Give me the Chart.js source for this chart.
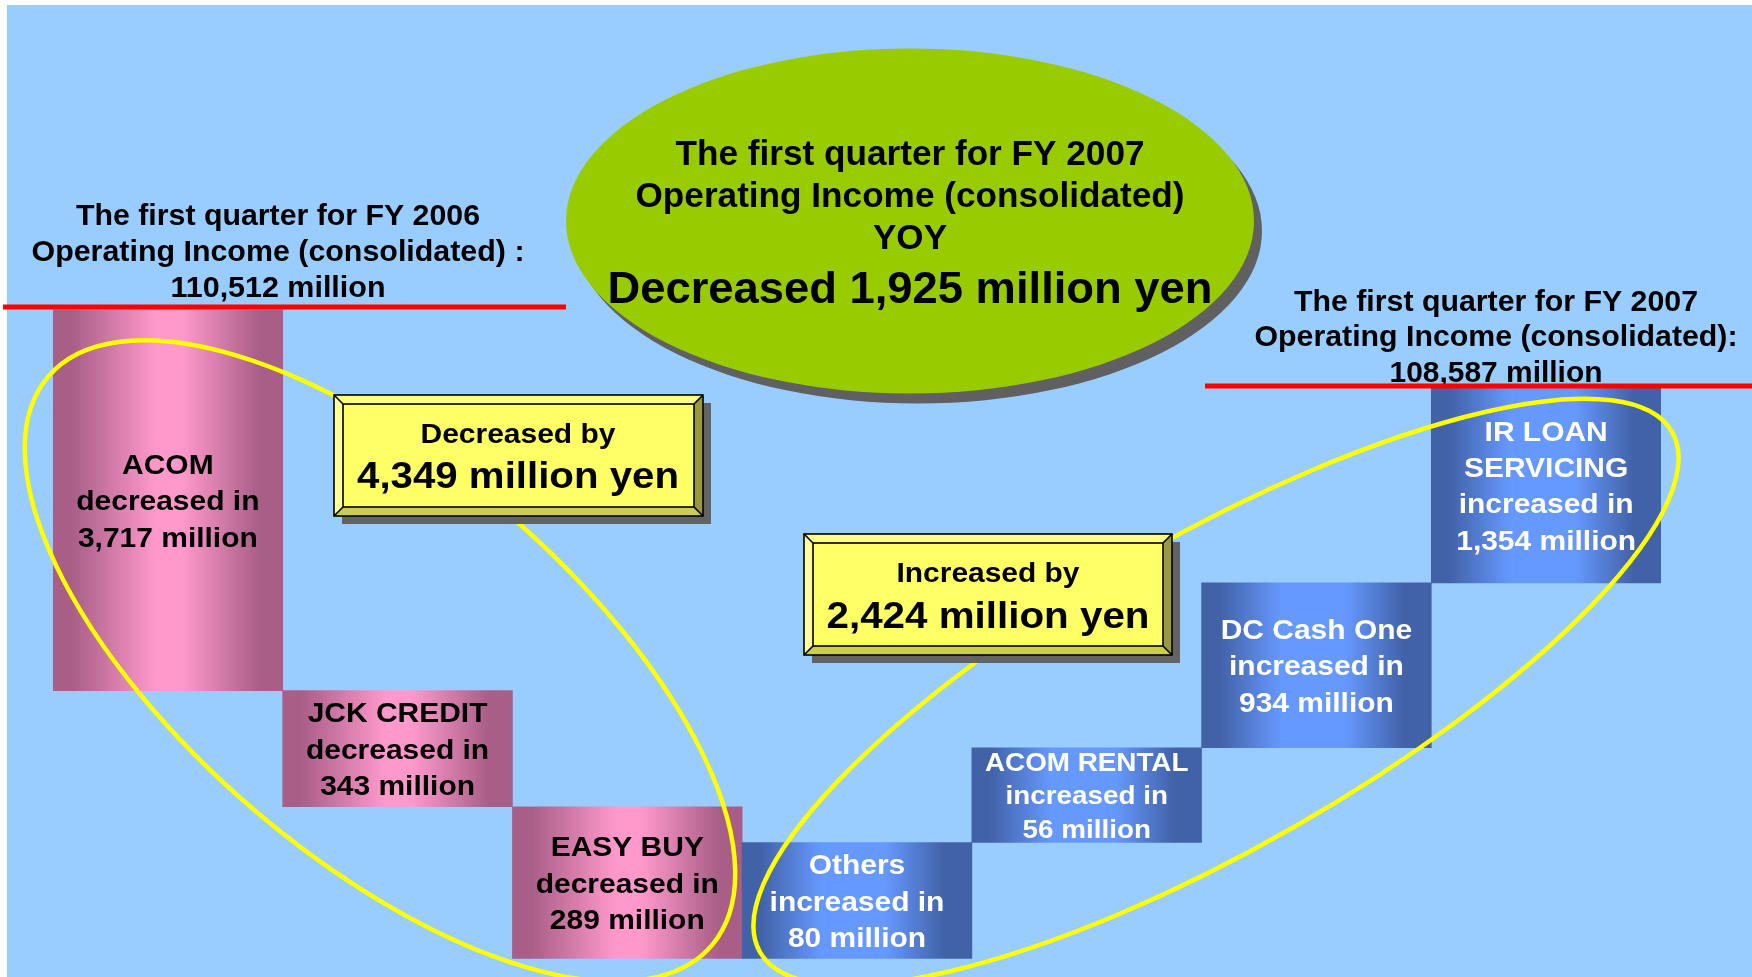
<!DOCTYPE html>
<html><head><meta charset="utf-8">
<script src="https://cdn.jsdelivr.net/npm/chart.js@4/dist/chart.umd.min.js"></script>
<style>html,body{margin:0;padding:0;background:#fff;}canvas{display:block;}</style>
</head><body>
<canvas id="c" width="1752" height="977"></canvas>
<script>
// ---------- data ----------
const categories = ["ACOM", "JCK CREDIT", "EASY BUY", "Others", "ACOM RENTAL", "DC Cash One", "IR LOAN SERVICING"];
const nameLines = [["ACOM"], ["JCK CREDIT"], ["EASY BUY"], ["Others"], ["ACOM RENTAL"], ["DC Cash One"], ["IR LOAN", "SERVICING"]];
const changeMillion = [-3717, -343, -289, 80, 56, 934, 1354];
// bar extents as drawn on the slide (schematic level: 100 = FY2006 line, 0 = lowest step)
const barFrom = [100, 41.3, 23.4, 0, 17.9, 32.5, 57.9];
const barTo   = [41.3, 23.4, 0, 17.9, 32.5, 57.9, 88.0];
const startLevel = 100;
const endLevel = 88.0;
const fy2006Income = 110512;
const fy2007Income = 108587;
const totalDecrease = 4349;
const totalIncrease = 2424;
const yoyChange = -1925;

const fmt = n => Math.abs(n).toLocaleString('en-US');
const FONT = '"Liberation Sans", Arial, Helvetica, sans-serif';

function drawText(ctx, str, x, y, size, opt) {
  opt = opt || {};
  ctx.save();
  ctx.font = 'bold ' + size + 'px ' + FONT;
  ctx.fillStyle = opt.color || '#000';
  ctx.textAlign = 'center';
  ctx.textBaseline = 'alphabetic';
  let sx = opt.sx || 1;
  if (opt.width) sx = opt.width / ctx.measureText(str).width;
  ctx.translate(x, y);
  ctx.scale(sx, 1);
  ctx.fillText(str, 0, 0);
  ctx.restore();
}

function bevelBox(ctx, x0, y0, x1, y1) {
  const b = 9;
  ctx.save();
  ctx.fillStyle = '#636363';
  ctx.fillRect(x0 + 8, y0 + 8, x1 - x0, y1 - y0);
  ctx.fillStyle = '#FFFF66';
  ctx.fillRect(x0, y0, x1 - x0, y1 - y0);
  const poly = (pts, col) => {
    ctx.beginPath(); ctx.moveTo(pts[0][0], pts[0][1]);
    for (let i = 1; i < pts.length; i++) ctx.lineTo(pts[i][0], pts[i][1]);
    ctx.closePath(); ctx.fillStyle = col; ctx.fill();
  };
  poly([[x0, y0], [x1, y0], [x1 - b, y0 + b], [x0 + b, y0 + b]], '#FFFF88');
  poly([[x0, y0], [x0 + b, y0 + b], [x0 + b, y1 - b], [x0, y1]], '#FFFF9E');
  poly([[x1, y0], [x1, y1], [x1 - b, y1 - b], [x1 - b, y0 + b]], '#999940');
  poly([[x0, y1], [x1, y1], [x1 - b, y1 - b], [x0 + b, y1 - b]], '#CCCC50');
  ctx.strokeStyle = '#000'; ctx.lineWidth = 1.6;
  ctx.strokeRect(x0, y0, x1 - x0, y1 - y0);
  ctx.strokeRect(x0 + b, y0 + b, x1 - x0 - 2 * b, y1 - y0 - 2 * b);
  ctx.beginPath();
  ctx.moveTo(x0, y0); ctx.lineTo(x0 + b, y0 + b);
  ctx.moveTo(x1, y0); ctx.lineTo(x1 - b, y0 + b);
  ctx.moveTo(x0, y1); ctx.lineTo(x0 + b, y1 - b);
  ctx.moveTo(x1, y1); ctx.lineTo(x1 - b, y1 - b);
  ctx.stroke();
  ctx.restore();
}

function barGradient(c) {
  const chart = c.chart;
  const dec = changeMillion[c.dataIndex] < 0;
  const dark = dec ? '#A85E86' : '#4262A8';
  const light = dec ? '#FF99CC' : '#6699FF';
  if (c.type !== 'data' || !chart.chartArea) return light;
  const w = chart.chartArea.width / categories.length;
  const cx = chart.scales.x.getPixelForValue(c.dataIndex);
  const g = chart.ctx.createLinearGradient(cx - w / 2, 0, cx + w / 2, 0);
  if (dec) {
    g.addColorStop(0, dark); g.addColorStop(0.08, dark);
    g.addColorStop(0.45, light); g.addColorStop(0.56, light);
    g.addColorStop(0.9, dark); g.addColorStop(1, dark);
  } else {
    g.addColorStop(0, dark); g.addColorStop(0.08, dark);
    g.addColorStop(0.35, light); g.addColorStop(0.62, light);
    g.addColorStop(0.88, dark); g.addColorStop(1, dark);
  }
  return g;
}

const slidePlugin = {
  id: 'slide',
  beforeDraw(chart) {
    const ctx = chart.ctx;
    ctx.save();
    ctx.fillStyle = '#FFFFFF';
    ctx.fillRect(0, 0, chart.width, chart.height);
    ctx.fillStyle = '#99CCFF';
    ctx.fillRect(7, 5, chart.width - 7, chart.height - 5);
    ctx.restore();
  },
  afterDatasetsDraw(chart) {
    const ctx = chart.ctx;
    const meta = chart.getDatasetMeta(0);
    const ys = chart.scales.y;

    // bar labels
    meta.data.forEach((bar, i) => {
      const dec = changeMillion[i] < 0;
      const lines = nameLines[i].concat([dec ? 'decreased in' : 'increased in', fmt(changeMillion[i]) + ' million']);
      const fs = (categories[i] === 'ACOM RENTAL') ? 26 : 28;
      const lh = fs * 1.3;
      const cy = (bar.y + bar.base) / 2;
      lines.forEach((t, k) => {
        const by = cy + (k - (lines.length - 1) / 2) * lh + fs * 0.36;
        drawText(ctx, t, bar.x, by, fs, { sx: 1.07, color: dec ? '#000000' : '#FFFFFF' });
      });
    });

    // yellow grouping ellipses
    ctx.save();
    ctx.strokeStyle = '#FFFF00';
    ctx.lineWidth = 4.5;
    ctx.beginPath();
    ctx.ellipse(380, 661, 437, 195, 40.6 * Math.PI / 180, 0, Math.PI * 2);
    ctx.stroke();
    ctx.beginPath();
    ctx.ellipse(1216, 692, 525, 156, -29.7 * Math.PI / 180, 0, Math.PI * 2);
    ctx.stroke();
    ctx.restore();

    // header texts
    drawText(ctx, 'The first quarter for FY 2006', 278, 225, 30, { width: 404 });
    drawText(ctx, 'Operating Income (consolidated) :', 278, 261, 30, { width: 493 });
    drawText(ctx, fmt(fy2006Income) + ' million', 278, 297, 30, { width: 215 });
    drawText(ctx, 'The first quarter for FY 2007', 1496, 311, 30, { width: 404 });
    drawText(ctx, 'Operating Income (consolidated):', 1496, 346, 30, { width: 483 });
    drawText(ctx, fmt(fy2007Income) + ' million', 1496, 382, 30, { width: 213 });

    // red level lines
    ctx.save();
    ctx.strokeStyle = '#FF0000';
    ctx.lineWidth = 5;
    const yStart = ys.getPixelForValue(startLevel) - 2.5;
    const yEnd = ys.getPixelForValue(endLevel) - 1.5;
    ctx.beginPath(); ctx.moveTo(3, yStart); ctx.lineTo(566, yStart); ctx.stroke();
    ctx.beginPath(); ctx.moveTo(1205, yEnd); ctx.lineTo(1752, yEnd); ctx.stroke();
    ctx.restore();

    // central green ellipse
    ctx.save();
    ctx.fillStyle = '#606060';
    ctx.beginPath(); ctx.ellipse(918, 231, 344, 172.5, 0, 0, Math.PI * 2); ctx.fill();
    ctx.fillStyle = '#99CC00';
    ctx.beginPath(); ctx.ellipse(910, 221, 344, 172.5, 0, 0, Math.PI * 2); ctx.fill();
    ctx.restore();
    drawText(ctx, 'The first quarter for FY 2007', 910, 165, 35, { width: 469 });
    drawText(ctx, 'Operating Income (consolidated)', 910, 207, 35, { width: 549 });
    drawText(ctx, 'YOY', 910, 249, 35, { width: 74 });
    drawText(ctx, (yoyChange < 0 ? 'Decreased ' : 'Increased ') + fmt(yoyChange) + ' million yen', 910, 303, 45, { width: 605 });

    // yellow summary boxes
    bevelBox(ctx, 334, 395, 703, 516);
    drawText(ctx, 'Decreased by', 518, 443, 27, { width: 195 });
    drawText(ctx, fmt(totalDecrease) + ' million yen', 518, 488, 37, { width: 322 });
    bevelBox(ctx, 804, 534, 1172, 655);
    drawText(ctx, 'Increased by', 988, 582, 27, { width: 183 });
    drawText(ctx, fmt(totalIncrease) + ' million yen', 988, 628, 37, { width: 323 });
  }
};

new Chart(document.getElementById('c'), {
  type: 'bar',
  data: {
    labels: categories,
    datasets: [{
      data: barFrom.map((f, i) => [f, barTo[i]]),
      backgroundColor: barGradient,
      borderWidth: 0,
      borderSkipped: false,
      barPercentage: 1.0,
      categoryPercentage: 1.0
    }]
  },
  options: {
    responsive: false,
    animation: false,
    devicePixelRatio: 1,
    layout: { padding: { left: 53, right: 91, top: 309.5, bottom: 18.3 } },
    plugins: { legend: { display: false }, tooltip: { enabled: false }, title: { display: false } },
    scales: {
      x: { display: false, grid: { display: false } },
      y: { display: false, min: 0, max: 100, grid: { display: false } }
    }
  },
  plugins: [slidePlugin]
});
</script>
</body></html>
